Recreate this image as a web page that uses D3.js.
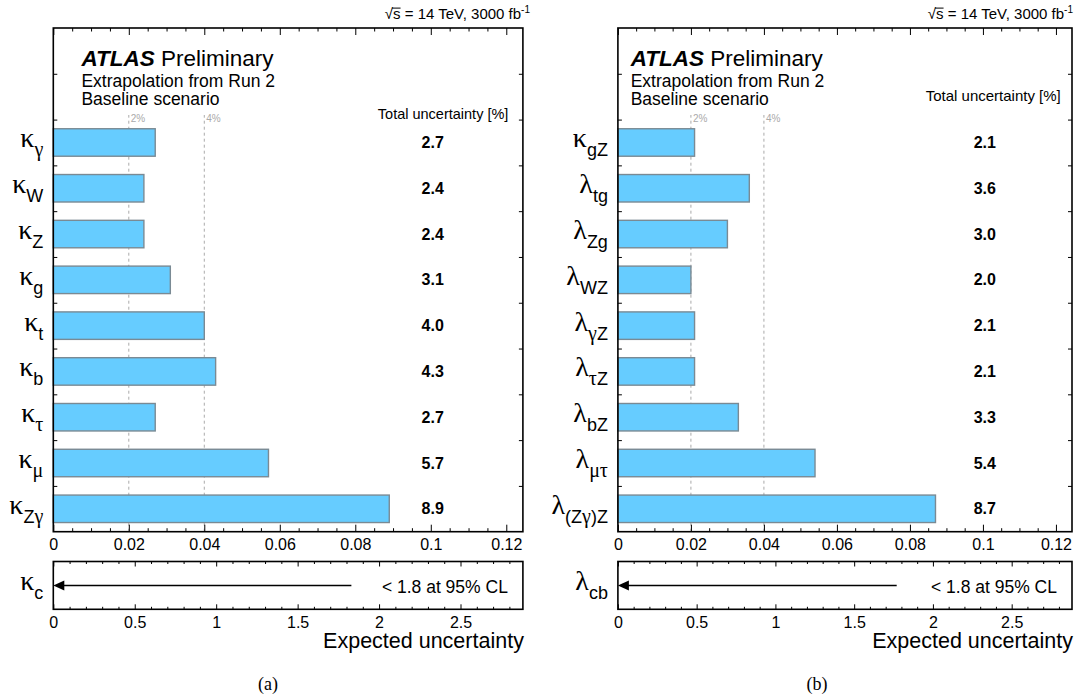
<!DOCTYPE html>
<html>
<head>
<meta charset="utf-8">
<script src="https://cdn.jsdelivr.net/npm/d3@7"></script>
<style>
  body { margin: 0; background: #fff; }
  svg { display: block; }
</style>
</head>
<body>
<div id="chart"></div>
<script>
// Data
const leftSymbols = ['κ', 'κ', 'κ', 'κ', 'κ', 'κ', 'κ', 'κ', 'κ'];
const leftSubs = ['γ', 'W', 'Z', 'g', 't', 'b', 'τ', 'μ', 'Zγ'];
const leftValues = [2.7, 2.4, 2.4, 3.1, 4.0, 4.3, 2.7, 5.7, 8.9];

const rightSymbols = ['κ', 'λ', 'λ', 'λ', 'λ', 'λ', 'λ', 'λ', 'λ'];
const rightSubs = ['gZ', 'tg', 'Zg', 'WZ', 'γZ', 'τZ', 'bZ', 'μτ', '(Zγ)Z'];
const rightValues = [2.1, 3.6, 3.0, 2.0, 2.1, 2.1, 3.3, 5.4, 8.7];

const limitSymbols = ['κ', 'λ'];
const limitSubs = ['c', 'cb'];
const limitValues = [1.83, 1.77];
const limitText = '< 1.8 at 95% CL';

const upperTicks = [0, 0.02, 0.04, 0.06, 0.08, 0.1, 0.12];
const upperTickLabels = ['0', '0.02', '0.04', '0.06', '0.08', '0.1', '0.12'];
const lowerTicks = [0, 0.5, 1, 1.5, 2, 2.5];
const lowerTickLabels = ['0', '0.5', '1', '1.5', '2', '2.5'];
const guideValues = [0.02, 0.04];
const guideLabels = ['2%', '4%'];

// Layout
const W = 1084, H = 700;
const sans = 'Liberation Sans, Arial, Helvetica, sans-serif';
const serif = 'Liberation Serif, Times New Roman, serif';
const frameTop = 28, frameBottom = 531.7; // upper frame
const lTop = 561.5, lBottom = 609.3;      // lower frame

const panels = [
  { symbols: leftSymbols, subs: leftSubs, values: leftValues, x0: 53.3, x1: 522.9,
    atlasX: 81.4, headerEnd: 530, totalEnd: 508.4, totalY: 119, totalSize: 14.5, caption: '(a)', capX: 268 },
  { symbols: rightSymbols, subs: rightSubs, values: rightValues, x0: 617.9, x1: 1072,
    atlasX: 630.7, headerEnd: 1073, totalEnd: 1060.8, totalY: 100.7, totalSize: 15, caption: '(b)', capX: 817 }
];

const svg = d3.select('#chart')
  .append('svg')
  .attr('width', W)
  .attr('height', H)
  .style('font-family', sans);

svg.append('rect').attr('width', W).attr('height', H).attr('fill', '#fff');

function addLabel(g, x, y, sym, sub) {
  const t = g.append('text')
    .attr('x', x)
    .attr('y', y)
    .attr('text-anchor', 'end')
    .attr('fill', '#000');
  t.append('tspan').attr('font-family', serif).attr('font-size', 28).text(sym);
  const runs = sub.match(/[α-ω]+|[^α-ω]+/g);
  runs.forEach((r, i) => {
    const greek = /[α-ω]/.test(r);
    const ts = t.append('tspan')
      .attr('font-family', greek ? serif : sans)
      .attr('font-size', greek ? 20 : 18)
      .text(r);
    if (i === 0) ts.attr('dy', 9);
  });
}

function styleAxis(g, size) {
  g.select('.domain').remove();
  g.attr('font-family', sans).attr('font-size', size);
  g.selectAll('line').attr('stroke', '#000');
  g.selectAll('text').attr('fill', '#000');
}

panels.forEach((p, pi) => {
  const g = svg.append('g');

  const x = d3.scaleLinear().domain([0, 0.1244]).range([p.x0, p.x1]);
  const y = d3.scaleLinear().domain([0, 11]).range([frameBottom, frameTop]);
  const xl = d3.scaleLinear().domain([0, 2.883]).range([p.x0, p.x1]);

  // header
  const h = g.append('text')
    .attr('y', 19.3)
    .attr('font-size', 15)
    .attr('fill', '#000');
  h.append('tspan').text('√');
  h.append('tspan').text('s');
  h.append('tspan').text(' = 14 TeV, 3000 fb');
  h.append('tspan').attr('font-size', 10).attr('dy', -6).text('-1');
  const hw = h.node().getComputedTextLength();
  h.attr('x', p.headerEnd - hw);
  const e0 = h.node().getExtentOfChar(0);
  const e1 = h.node().getExtentOfChar(1);
  g.append('line')
    .attr('x1', e0.x + e0.width - 1)
    .attr('x2', e1.x + e1.width)
    .attr('y1', e1.y + 2.8)
    .attr('y2', e1.y + 2.8)
    .attr('stroke', '#000')
    .attr('stroke-width', 1);

  // ATLAS text
  const at = g.append('text')
    .attr('x', p.atlasX)
    .attr('y', 65.7)
    .attr('font-size', 22.5)
    .attr('fill', '#000');
  at.append('tspan').attr('font-weight', 'bold').attr('font-style', 'italic').text('ATLAS');
  at.append('tspan').text(' Preliminary');

  g.append('text').attr('x', p.atlasX).attr('y', 87).attr('font-size', 17.5).text('Extrapolation from Run 2');
  g.append('text').attr('x', p.atlasX).attr('y', 104.5).attr('font-size', 17.5).text('Baseline scenario');

  g.append('text')
    .attr('x', p.totalEnd)
    .attr('y', p.totalY)
    .attr('text-anchor', 'end')
    .attr('font-size', p.totalSize)
    .text('Total uncertainty [%]');

  // guide lines
  g.selectAll('.guide')
    .data(guideValues)
    .enter()
    .append('line')
    .attr('x1', d => x(d))
    .attr('x2', d => x(d))
    .attr('y1', y(0))
    .attr('y2', 115)
    .attr('stroke', '#aaa')
    .attr('stroke-width', 1)
    .attr('stroke-dasharray', '3,3');

  g.selectAll('.guideLabel')
    .data(guideValues)
    .enter()
    .append('text')
    .attr('x', d => x(d) + 2)
    .attr('y', 121.7)
    .attr('font-size', 10)
    .attr('fill', '#aaa')
    .text((d, i) => guideLabels[i]);

  // bars
  const rowC = i => p.values.length - 1 - i + 0.5;
  g.selectAll('.bar')
    .data(p.values)
    .enter()
    .append('rect')
    .attr('x', x(0))
    .attr('y', (d, i) => y(rowC(i) + 0.3))
    .attr('width', d => x(d / 100) - x(0))
    .attr('height', (d, i) => y(rowC(i) - 0.3) - y(rowC(i) + 0.3))
    .attr('fill', '#66ccff')
    .attr('stroke', '#7a8a94')
    .attr('stroke-width', 1.4);

  // values
  g.selectAll('.val')
    .data(p.values)
    .enter()
    .append('text')
    .attr('x', x(0.1005))
    .attr('y', (d, i) => y(rowC(i)) + 5.5)
    .attr('text-anchor', 'middle')
    .attr('font-size', 16)
    .attr('font-weight', 'bold')
    .text(d => d.toFixed(1));

  // parameter labels
  p.values.forEach((d, i) => {
    addLabel(g, p.x0 - 10, y(rowC(i)) + 5, p.symbols[i], p.subs[i]);
  });

  // upper axes
  const minorU = d3.range(0, 0.1244, 0.005).filter(v => Math.abs(v / 0.02 - Math.round(v / 0.02)) > 1e-6);
  g.append('g').attr('transform', `translate(0,${frameBottom})`)
    .call(d3.axisBottom(x).tickValues(minorU).tickSize(-3.5).tickSizeOuter(0).tickFormat(''))
    .call(a => styleAxis(a, 16));
  g.append('g').attr('transform', `translate(0,${frameBottom})`)
    .call(d3.axisBottom(x).tickValues(upperTicks).tickSize(-7).tickSizeOuter(0).tickPadding(7)
      .tickFormat((d, i) => upperTickLabels[i]))
    .call(a => styleAxis(a, 16));
  g.append('g').attr('transform', `translate(0,${frameTop})`)
    .call(d3.axisTop(x).tickValues(minorU).tickSize(-3.5).tickSizeOuter(0).tickFormat(''))
    .call(a => styleAxis(a, 16));
  g.append('g').attr('transform', `translate(0,${frameTop})`)
    .call(d3.axisTop(x).tickValues(upperTicks).tickSize(-7).tickSizeOuter(0).tickFormat(''))
    .call(a => styleAxis(a, 16));
  g.append('g').attr('transform', `translate(${p.x0},0)`)
    .call(d3.axisLeft(y).tickValues(d3.range(1, 11)).tickSize(-4).tickSizeOuter(0).tickFormat(''))
    .call(a => styleAxis(a, 16));
  g.append('g').attr('transform', `translate(${p.x1},0)`)
    .call(d3.axisRight(y).tickValues(d3.range(1, 11)).tickSize(-4).tickSizeOuter(0).tickFormat(''))
    .call(a => styleAxis(a, 16));

  g.append('rect')
    .attr('x', p.x0).attr('y', frameTop)
    .attr('width', p.x1 - p.x0).attr('height', frameBottom - frameTop)
    .attr('fill', 'none').attr('stroke', '#000').attr('stroke-width', 1.6);

  // lower panel
  const minorL = d3.range(0, 2.883, 0.1).filter(v => Math.abs(v * 2 - Math.round(v * 2)) > 1e-6);
  g.append('g').attr('transform', `translate(0,${lBottom})`)
    .call(d3.axisBottom(xl).tickValues(minorL).tickSize(-2.5).tickSizeOuter(0).tickFormat(''))
    .call(a => styleAxis(a, 16));
  g.append('g').attr('transform', `translate(0,${lBottom})`)
    .call(d3.axisBottom(xl).tickValues(lowerTicks).tickSize(-5).tickSizeOuter(0).tickPadding(7)
      .tickFormat((d, i) => lowerTickLabels[i]))
    .call(a => styleAxis(a, 16));
  g.append('g').attr('transform', `translate(0,${lTop})`)
    .call(d3.axisTop(xl).tickValues(minorL).tickSize(-2.5).tickSizeOuter(0).tickFormat(''))
    .call(a => styleAxis(a, 16));
  g.append('g').attr('transform', `translate(0,${lTop})`)
    .call(d3.axisTop(xl).tickValues(lowerTicks).tickSize(-5).tickSizeOuter(0).tickFormat(''))
    .call(a => styleAxis(a, 16));

  g.append('rect')
    .attr('x', p.x0).attr('y', lTop)
    .attr('width', p.x1 - p.x0).attr('height', lBottom - lTop)
    .attr('fill', 'none').attr('stroke', '#000').attr('stroke-width', 1.6);

  const ay = (lTop + lBottom) / 2;
  g.append('line')
    .attr('x1', xl(limitValues[pi]))
    .attr('x2', xl(0) + 8)
    .attr('y1', ay).attr('y2', ay)
    .attr('stroke', '#000').attr('stroke-width', 1.5);
  g.append('path')
    .attr('d', `M${xl(0)},${ay} L${xl(0) + 11},${ay - 5} L${xl(0) + 11},${ay + 5} Z`)
    .attr('fill', '#000');

  g.append('text')
    .attr('x', p.x1 - 15)
    .attr('y', 592.7)
    .attr('text-anchor', 'end')
    .attr('font-size', 17.5)
    .text(limitText);

  addLabel(g, p.x0 - 10, ay + 5, limitSymbols[pi], limitSubs[pi]);

  g.append('text')
    .attr('x', p.x1 + 1)
    .attr('y', 648)
    .attr('text-anchor', 'end')
    .attr('font-size', 21.5)
    .text('Expected uncertainty');

  g.append('text')
    .attr('x', p.capX)
    .attr('y', 690)
    .attr('text-anchor', 'middle')
    .attr('font-family', serif)
    .attr('font-size', 18)
    .text(p.caption);
});
</script>
</body>
</html>
